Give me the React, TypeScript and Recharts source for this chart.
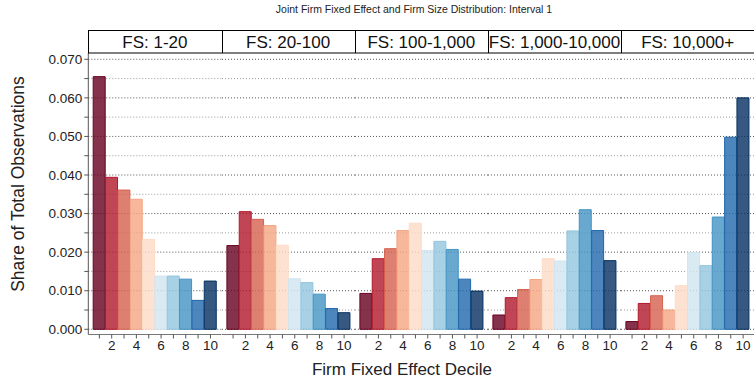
import { BarChart, Bar, XAxis, YAxis, Cell, CartesianGrid } from "recharts"

const deciles = [1, 2, 3, 4, 5, 6, 7, 8, 9, 10]
const sizeClasses = ["FS: 1-20", "FS: 20-100", "FS: 100-1,000", "FS: 1,000-10,000", "FS: 10,000+"]

// share of total observations by firm FE decile, one list per firm size class
const fs1 = [0.0655, 0.0394, 0.0361, 0.0337, 0.0233, 0.0138, 0.0138, 0.013, 0.0075, 0.0125]
const fs2 = [0.0217, 0.0305, 0.0285, 0.0269, 0.0218, 0.0131, 0.0121, 0.0091, 0.0054, 0.0043]
const fs3 = [0.0093, 0.0183, 0.0209, 0.0256, 0.0275, 0.0204, 0.0228, 0.0207, 0.013, 0.0099]
const fs4 = [0.0037, 0.0082, 0.0103, 0.0129, 0.0183, 0.0177, 0.0255, 0.031, 0.0256, 0.0178]
const fs5 = [0.002, 0.0067, 0.0087, 0.005, 0.0113, 0.0199, 0.0165, 0.0291, 0.0498, 0.06]
const shares = [fs1, fs2, fs3, fs4, fs5]

const decileColors = [
  "#67001f", "#b2182b", "#d6604d", "#f4a582", "#fddbc7",
  "#d1e5f0", "#92c5de", "#4393c3", "#2166ac", "#053061",
]

const majorTicks = [0, 0.01, 0.02, 0.03, 0.04, 0.05, 0.06, 0.07]
const minorTicks = [0.005, 0.015, 0.025, 0.035, 0.045, 0.055, 0.065]
const allTicks = [...majorTicks, ...minorTicks].sort((a, b) => a - b)

const FONT = "'Liberation Sans', Arial, Helvetica, sans-serif"
const AXIS_W = 88.3
const FACET_W = 133.2
const PANEL_TOP = 53
const CHART_H = 320
const XAXIS_H = 38.5
// a little room above 0.070 and below 0 like the original plot region
const Y_DOMAIN: [number, number] = [-0.00135, 0.07163]

function YTick(props: any) {
  const { x, y, payload } = props
  const v = payload.value
  const major = majorTicks.some((m) => Math.abs(m - v) < 1e-9)
  if (!major) return <g />
  return (
    <text x={x} y={y} dy={4.7} textAnchor="end" fontSize={13.5} fontFamily={FONT} fill="#222">
      {v.toFixed(3)}
    </text>
  )
}

function Panel({ values, idx }: { values: number[]; idx: number }) {
  const data = deciles.map((d, i) => ({ decile: d, share: values[i] }))
  const first = idx === 0
  const left = first ? 0 : AXIS_W + idx * FACET_W
  const width = first ? AXIS_W + FACET_W : FACET_W
  return (
    <div style={{ position: "absolute", left, top: PANEL_TOP }}>
      <BarChart
        width={width}
        height={CHART_H}
        data={data}
        margin={{ top: 0, right: 0, bottom: 0, left: 0 }}
        barCategoryGap={0}
        barGap={0}
      >
        <CartesianGrid vertical={false} horizontalValues={minorTicks} stroke="#9a9a9a" strokeDasharray="1 2" />
        <CartesianGrid vertical={false} horizontalValues={majorTicks} stroke="#555" strokeDasharray="1 2" />
        <XAxis
          dataKey="decile"
          type="category"
          interval={0}
          height={XAXIS_H}
          padding={{ left: 4.9, right: 4.9 }}
          tickSize={4}
          tickMargin={2}
          axisLine={{ stroke: "#777" }}
          tickLine={{ stroke: "#555" }}
          tick={{ fontSize: 13.5, fontFamily: FONT, fill: "#222" }}
          tickFormatter={(v: number) => (v % 2 === 0 ? String(v) : "")}
        />
        <YAxis
          hide={!first}
          width={AXIS_W}
          type="number"
          domain={Y_DOMAIN}
          allowDataOverflow
          ticks={allTicks}
          interval={0}
          tickSize={4}
          tickMargin={2}
          axisLine={{ stroke: "#555" }}
          tickLine={{ stroke: "#555" }}
          tick={<YTick />}
        />
        <Bar dataKey="share" isAnimationActive={false} strokeWidth={1}>
          {data.map((_, i) => (
            <Cell key={i} fill={decileColors[i]} fillOpacity={0.8} stroke={decileColors[i]} />
          ))}
        </Bar>
      </BarChart>
    </div>
  )
}

export default function App() {
  const stripX = [0, 1, 2, 3, 4].map((i) => AXIS_W + i * FACET_W)
  return (
    <div
      style={{
        position: "absolute",
        left: 0,
        top: 0,
        width: 754,
        height: 381,
        background: "#fff",
        overflow: "hidden",
      }}
    >
      {shares.map((vals, i) => (
        <Panel key={i} values={vals} idx={i} />
      ))}
      <svg width={754} height={381} style={{ position: "absolute", left: 0, top: 0, pointerEvents: "none" }}>
        <text x={414} y={8.5} textAnchor="middle" dominantBaseline="central" fontSize={10.5} fontFamily={FONT} fill="#222">
          Joint Firm Fixed Effect and Firm Size Distribution: Interval 1
        </text>
        <rect x={88.5} y={30.5} width={720} height={22.5} fill="#fff" stroke="#000" strokeWidth={1} />
        {stripX.slice(1).map((x, i) => (
          <line key={i} x1={Math.round(x) + 0.5} x2={Math.round(x) + 0.5} y1={30.5} y2={53} stroke="#000" />
        ))}
        {sizeClasses.map((s, i) => (
          <text
            key={s}
            x={stripX[i] + FACET_W / 2}
            y={42.5}
            textAnchor="middle"
            dominantBaseline="central"
            fontSize={17}
            fontFamily={FONT}
            fill="#111"
          >
            {s}
          </text>
        ))}
        <text
          transform="translate(18,184) rotate(-90)"
          textAnchor="middle"
          dominantBaseline="central"
          fontSize={17.5}
          fontFamily={FONT}
          fill="#222"
        >
          Share of Total Observations
        </text>
        <text x={402} y={369} textAnchor="middle" dominantBaseline="central" fontSize={17} fontFamily={FONT} fill="#222">
          Firm Fixed Effect Decile
        </text>
      </svg>
    </div>
  )
}
